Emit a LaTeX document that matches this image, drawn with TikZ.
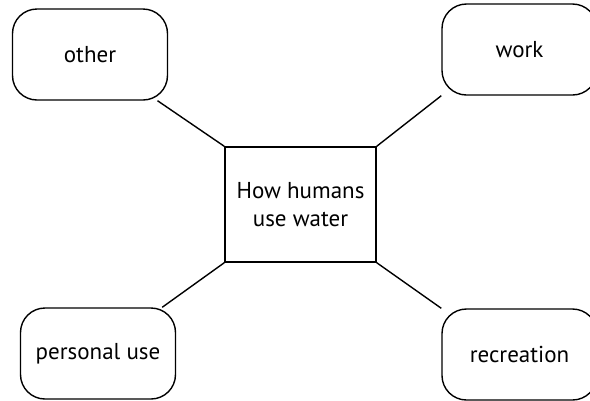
\documentclass[tikz,border=0pt]{standalone}
\usepackage{fontspec}
\setmainfont{PT Sans}
\begin{document}
\begin{tikzpicture}[x=1pt,y=-1pt,
  leaf/.style={draw, line width=1.4pt, rounded corners=24.5pt, minimum width=155pt, minimum height=91pt, inner sep=0pt, font=\fontsize{23}{28}\selectfont},
  hub/.style={draw, line width=1.4pt, minimum width=151pt, minimum height=115pt, inner sep=0pt, align=center, font=\fontsize{23}{28.5}\selectfont},
  link/.style={line width=1.4pt}]
\useasboundingbox (0,0) rectangle (590,400);
\node[hub] (c) at (300.5,204.5) {How humans\\use water};
\node[leaf] (o) at (90,54.5) {other};
\node[leaf] (w) at (519.5,49.5) {work};
\node[leaf] (p) at (98,353.5) {personal use};
\node[leaf] (r) at (519.5,354.5) {recreation};
\draw[link] (c.north west) -- (o);
\draw[link] (c.north east) -- (w.south west);
\draw[link] (c.south west) -- (p);
\draw[link] (c.south east) -- (r.north west);
\end{tikzpicture}
\end{document}
